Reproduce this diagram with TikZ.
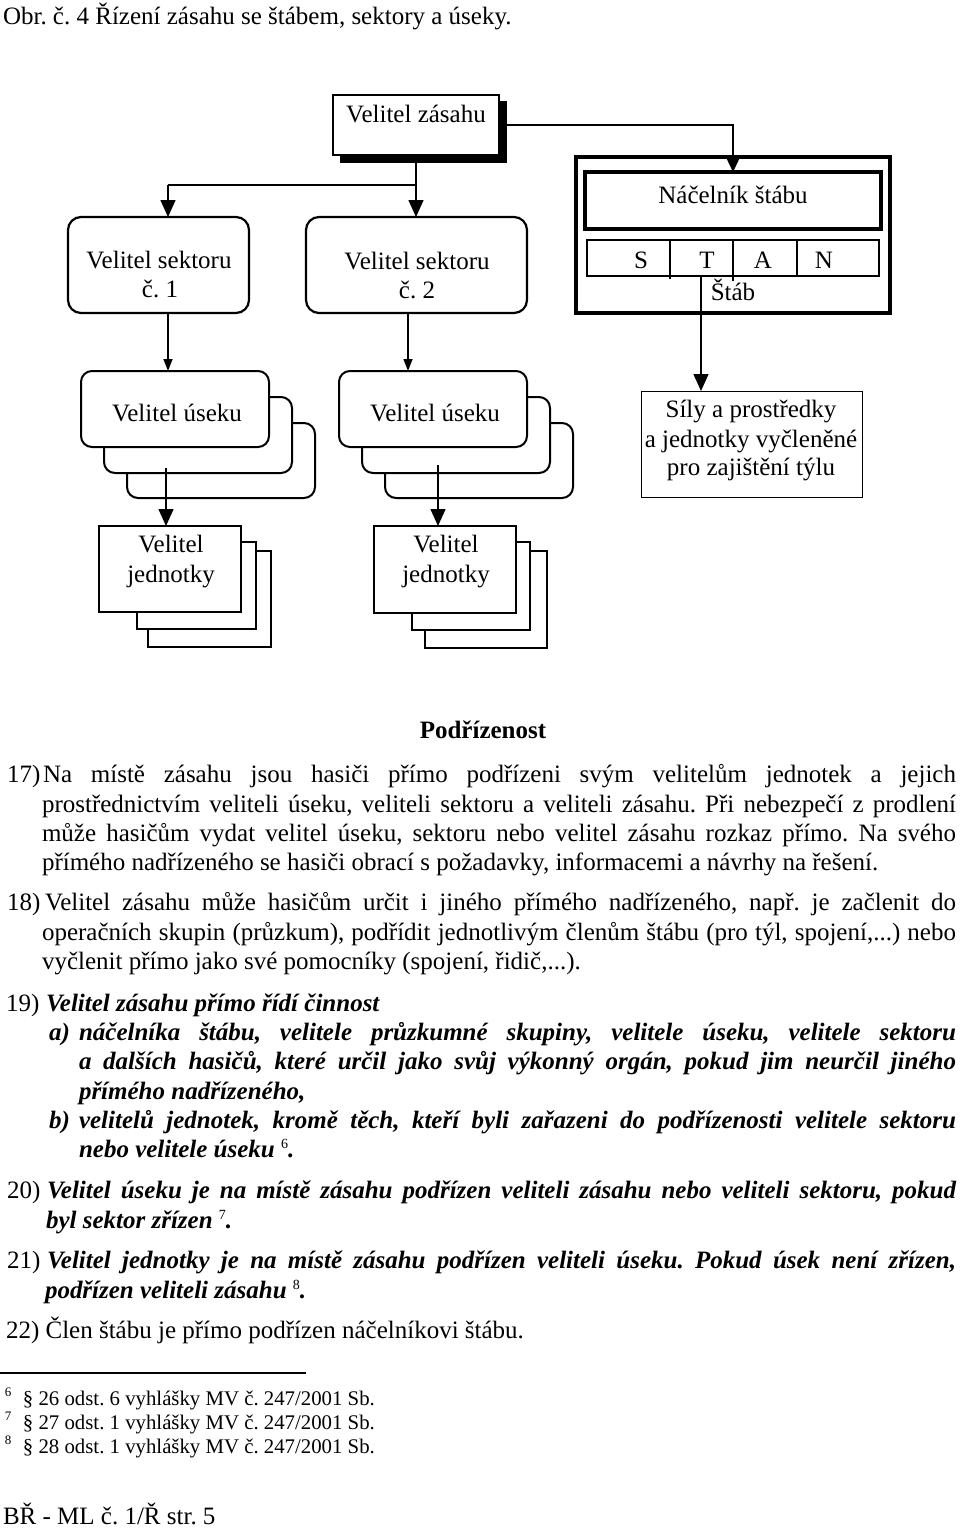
\documentclass[tikz,border=0pt]{standalone}
\usepackage{fontspec}
\setmainfont{Liberation Serif}
\usetikzlibrary{arrows.meta}
\frenchspacing
\hbadness=10000
\hfuzz=20pt
\newcommand\fnmark[1]{{\normalfont\fontsize{14}{14}\selectfont\raisebox{9pt}{#1}}}
\newcommand\bi[1]{\textbf{\textit{#1}}}
\newcommand\jl[2]{\makebox[#1][s]{#2}}
\begin{document}
\begin{tikzpicture}[x=1pt,y=-1pt,
  every node/.style={inner sep=0pt, outer sep=0pt},
  txt/.style={font=\fontsize{25}{30}\selectfont, anchor=base},
  ltxt/.style={font=\fontsize{25}{30}\selectfont, anchor=base west},
  bitxt/.style={font=\fontsize{25}{30}\selectfont\bfseries\itshape, anchor=base west},
  fnt/.style={font=\fontsize{20.8}{24}\selectfont, anchor=base west},
  fnm/.style={font=\fontsize{13}{13}\selectfont, anchor=base west},
  plainbox/.style={draw, line width=1.2pt, fill=white, anchor=north west},
  rbox/.style={draw, line width=2.2pt, fill=white, rounded corners=13pt, anchor=north west},
  ubox/.style={draw, line width=2pt, fill=white, rounded corners=11pt, anchor=north west},
  conn/.style={line width=1.4pt},
  arr/.style={conn, -{Triangle[width=15pt,length=17pt]}},
  arrm/.style={conn, -{Triangle[width=13pt,length=14pt]}},
  arrs/.style={conn, -{Triangle[width=9pt,length=12pt]}}
]
\fill[white] (0,0) rectangle (960,1529);
\useasboundingbox (0,0) rectangle (960,1529);

% title
\node[ltxt] (title) at (3,24) {Obr. č. 4 Řízení zásahu se štábem, sektory a úseky.};

% Velitel zásahu with shadow
\node[draw, fill=black, anchor=north west, minimum width=166pt, minimum height=61pt] (vzs) at (340,101) {};
\node[plainbox, minimum width=166pt, minimum height=60pt] (vz) at (333,95) {};
\node[txt] (vzt) at (416,122) {Velitel zásahu};

% sectors
\node[rbox, minimum width=181pt, minimum height=96pt] (s1) at (68,217) {};
\node[txt] (s1t) at (159,268) {Velitel sektoru};
\node[txt] (s1n) at (160,297) {č. 1};
\node[rbox, minimum width=221pt, minimum height=96pt] (s2) at (306,217) {};
\node[txt] (s2t) at (417,269) {Velitel sektoru};
\node[txt] (s2n) at (417,298) {č. 2};

% staff
\node[draw, line width=3.5pt, fill=white, anchor=north west, minimum width=314pt, minimum height=156pt] (stab) at (576,157) {};
\node[draw, line width=4pt, fill=white, anchor=north west, minimum width=296pt, minimum height=57pt] (nac) at (585,172) {};
\node[txt] (nact) at (733,203) {Náčelník štábu};
\node[plainbox, minimum width=83pt, minimum height=36pt] (cs) at (587,240) {};
\node[plainbox, minimum width=63pt, minimum height=36pt] (ct) at (670,240) {};
\node[plainbox, minimum width=64pt, minimum height=36pt] (ca) at (733,240) {};
\node[plainbox, minimum width=82pt, minimum height=36pt] (cn) at (797,240) {};
\draw[line width=1.2pt] (ct.south west) -- ++(0,3);
\draw[line width=1.2pt] (ca.south west) -- ++(0,5);
\node[txt] (lS) at (641,268) {S};
\node[txt] (lT) at (707,268) {T};
\node[txt] (lA) at (763,268) {A};
\node[txt] (lN) at (824,268) {N};
\node[txt] (stabt) at (733,300) {Štáb};

% úseky
\node[ubox, minimum width=188pt, minimum height=75pt] (u1c) at (127,423) {};
\node[ubox, minimum width=188pt, minimum height=76pt] (u1b) at (104,397) {};
\node[ubox, minimum width=188pt, minimum height=76pt] (u1) at (81,371) {};
\node[txt] (u1t) at (177,421) {Velitel úseku};
\node[ubox, minimum width=188pt, minimum height=75pt] (u2c) at (385,423) {};
\node[ubox, minimum width=188pt, minimum height=76pt] (u2b) at (362,397) {};
\node[ubox, minimum width=188pt, minimum height=76pt] (u2) at (339,371) {};
\node[txt] (u2t) at (435,421) {Velitel úseku};

% Síly
\node[draw, line width=1pt, fill=white, anchor=north west, minimum width=221pt, minimum height=106pt] (sily) at (641,391) {};
\node[txt] (sily1) at (751,417) {Síly a prostředky};
\node[txt] (sily2) at (751,447) {a jednotky vyčleněné};
\node[txt] (sily3) at (751,475) {pro zajištění týlu};

% jednotky
\node[plainbox, minimum width=123pt, minimum height=96pt] (j1c) at (148,551) {};
\node[plainbox, minimum width=119pt, minimum height=87pt] (j1b) at (137,542) {};
\node[plainbox, minimum width=142pt, minimum height=86pt] (j1) at (99,526) {};
\node[txt] (j1t) at (171,552) {Velitel};
\node[txt] (j1u) at (171,582) {jednotky};
\node[plainbox, minimum width=122pt, minimum height=97pt] (j2c) at (425,551) {};
\node[plainbox, minimum width=118pt, minimum height=88pt] (j2b) at (412,542) {};
\node[plainbox, minimum width=142pt, minimum height=87pt] (j2) at (374,526) {};
\node[txt] (j2t) at (446,552) {Velitel};
\node[txt] (j2u) at (446,582) {jednotky};

% connectors
\coordinate (hj) at (168,185);
\coordinate (c1) at (168,0);
\coordinate (c2) at (408,0);
\coordinate (d1) at (166,468);
\coordinate (d2) at (438,465);
\coordinate (d3) at (701,277);
\coordinate (vzr) at (506,125);
\draw[arrm] (vzr) -| (nac.north);
\draw[conn] (vz.south) |- (hj);
\draw[arr] (hj) -- (hj |- s1.north);
\draw[arr] (vz.south |- hj) -- (vz.south |- s2.north);
\draw[arrs] (s1.south -| c1) -- (u1.north -| c1);
\draw[arrs] (s2.south -| c2) -- (u2.north -| c2);
\draw[arr] (d1) -- (d1 |- j1.north);
\draw[arr] (d2) -- (d2 |- j2.north);
\draw[arr] (d3) -- (d3 |- sily.north);

% text
\node[txt, font=\fontsize{25}{30}\selectfont\bfseries] (podr) at (483,738) {Podřízenost};

% 17
\node[ltxt] (n17) at (7,782) {17)};
\node[ltxt] (l17a) at (43,782) {\jl{913pt}{Na místě zásahu jsou hasiči přímo podřízeni svým velitelům jednotek a jejich}};
\node[ltxt] (l17b) at (42,812) {\jl{914pt}{prostřednictvím veliteli úseku, veliteli sektoru a veliteli zásahu. Při nebezpečí z prodlení}};
\node[ltxt] (l17c) at (42,841) {\jl{914pt}{může hasičům vydat velitel úseku, sektoru nebo velitel zásahu rozkaz přímo. Na svého}};
\node[ltxt] (l17d) at (42,870) {přímého nadřízeného se hasiči obrací s požadavky, informacemi a návrhy na řešení.};

% 18
\node[ltxt] (n18) at (7,910) {18)};
\node[ltxt] (l18a) at (45,910) {\jl{911pt}{Velitel zásahu může hasičům určit i jiného přímého nadřízeného, např. je začlenit do}};
\node[ltxt] (l18b) at (42,940) {\jl{914pt}{operačních skupin (průzkum), podřídit jednotlivým členům štábu (pro týl, spojení,...) nebo}};
\node[ltxt] (l18c) at (42,969) {vyčlenit přímo jako své pomocníky (spojení, řidič,...).};

% 19
\node[ltxt] (n19) at (6,1011) {19)};
\node[bitxt] (l19) at (46,1011) {Velitel zásahu přímo řídí činnost};
\node[bitxt] (na) at (49,1040) {a)};
\node[bitxt] (l19a1) at (79,1040) {\jl{877pt}{náčelníka štábu, velitele průzkumné skupiny, velitele úseku, velitele sektoru}};
\node[bitxt] (l19a2) at (79,1069) {\jl{877pt}{a dalších hasičů, které určil jako svůj výkonný orgán, pokud jim neurčil jiného}};
\node[bitxt] (l19a3) at (79,1099) {přímého nadřízeného,};
\node[bitxt] (nb) at (49,1128) {b)};
\node[bitxt] (l19b1) at (79,1128) {\jl{877pt}{velitelů jednotek, kromě těch, kteří byli zařazeni do podřízenosti velitele sektoru}};
\node[bitxt] (l19b2) at (79,1157) {nebo velitele úseku~\fnmark{6}.};

% 20
\node[ltxt] (n20) at (7,1198) {20)};
\node[bitxt] (l20a) at (47,1198) {\jl{909pt}{Velitel úseku je na místě zásahu podřízen veliteli zásahu nebo veliteli sektoru, pokud}};
\node[bitxt] (l20b) at (46,1228) {byl sektor zřízen~\fnmark{7}.};

% 21
\node[ltxt] (n21) at (7,1268) {21)};
\node[bitxt] (l21a) at (47,1268) {\jl{909pt}{Velitel jednotky je na místě zásahu podřízen veliteli úseku. Pokud úsek není zřízen,}};
\node[bitxt] (l21b) at (45,1298) {podřízen veliteli zásahu~\fnmark{8}.};

% 22
\node[ltxt] (l22) at (6,1338) {22) Člen štábu je přímo podřízen náčelníkovi štábu.};

% footnotes
\coordinate (rl) at (0,1373);
\coordinate (rr) at (306,1373);
\draw[line width=1.2pt] (rl) -- (rr);
\node[fnm] (m6) at (5,1396) {6};
\node[fnt] (f6) at (23,1405) {§ 26 odst. 6 vyhlášky MV č. 247/2001 Sb.};
\node[fnm] (m7) at (5,1420) {7};
\node[fnt] (f7) at (23,1429) {§ 27 odst. 1 vyhlášky MV č. 247/2001 Sb.};
\node[fnm] (m8) at (5,1444) {8};
\node[fnt] (f8) at (23,1453) {§ 28 odst. 1 vyhlášky MV č. 247/2001 Sb.};

\node[ltxt] (footer) at (3,1524) {BŘ - ML č. 1/Ř str. 5};
\end{tikzpicture}
\end{document}
